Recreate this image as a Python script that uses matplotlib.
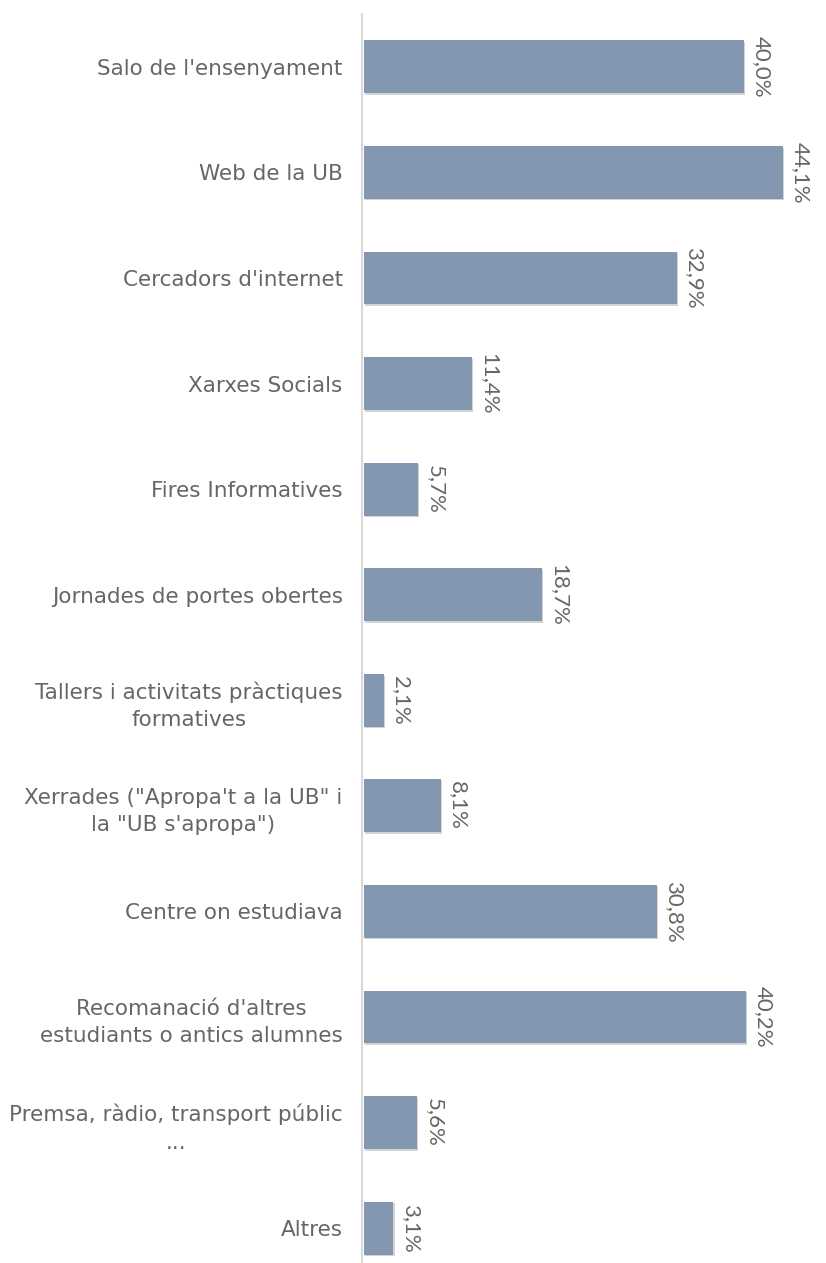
import matplotlib.pyplot as plt
from matplotlib import patheffects as pe

categories = [
    "Salo de l'ensenyament",
    "Web de la UB",
    "Cercadors d'internet",
    "Xarxes Socials",
    "Fires Informatives",
    "Jornades de portes obertes",
    "Tallers i activitats pràctiques\nformatives",
    "Xerrades (\"Apropa't a la UB\" i\nla \"UB s'apropa\")",
    "Centre on estudiava",
    "Recomanació d'altres\nestudiants o antics alumnes",
    "Premsa, ràdio, transport públic\n...",
    "Altres",
]
values = [40.0, 44.1, 32.9, 11.4, 5.7, 18.7, 2.1, 8.1, 30.8, 40.2, 5.6, 3.1]

bar_color = "#8497B0"
text_color = "#666666"

plt.rcParams["font.family"] = ["DejaVu Sans"]

fig = plt.figure(figsize=(8.26, 12.63), dpi=100)
ax = fig.add_axes([364 / 826, 0, 462 / 826, 1249 / 1263])

# spines first: moving a spine resets the ticks
for s in ["top", "right", "bottom"]:
    ax.spines[s].set_visible(False)
ax.spines["left"].set_color("#D9D9D9")
ax.spines["left"].set_linewidth(1.5)
ax.spines["left"].set_position(("data", -0.2))

pos = list(range(len(categories)))
bars = ax.barh(pos, values, height=0.5, color=bar_color, zorder=3)
for b in bars:
    b.set_path_effects([
        pe.SimplePatchShadow(offset=(0.8, -1.2), shadow_rgbFace="#505050", alpha=0.25),
        pe.Normal(),
    ])

for p, v in zip(pos, values):
    ax.text(v + 0.75, p, f"{v:.1f}%".replace(".", ","), rotation=270,
            ha="left", va="center", fontsize=16, color=text_color,
            family=["Lato", "DejaVu Sans"])

ax.set_xlim(0, 48.6)
ax.set_ylim(11.33, -0.5)
ax.tick_params(axis="y", length=0, pad=14)
ax.set_yticks(pos)
ax.set_yticklabels(categories, fontsize=15.5, color=text_color,
                   multialignment="center", linespacing=1.45)
ax.set_xticks([])

fig.savefig("out.png", dpi=100)
